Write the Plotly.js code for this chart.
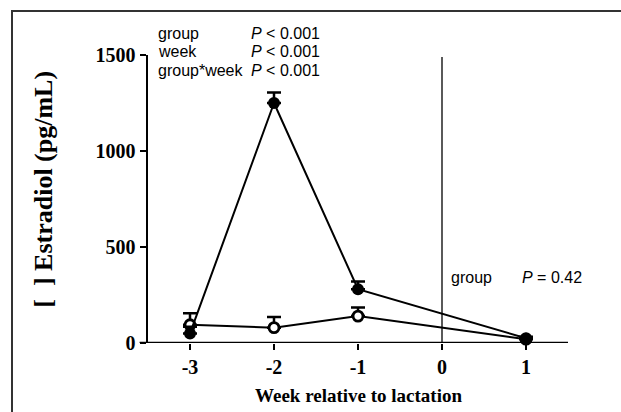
<!DOCTYPE html>
<html>
<head>
<meta charset="utf-8">
<script src="https://cdn.plot.ly/plotly-3.0.1.min.js"></script>
<style>
html,body{margin:0;padding:0;background:#fff;}
#frame{position:absolute;left:11px;top:10px;width:620px;height:410px;border-top:2px solid #333;border-left:2px solid #333;}
#chart{position:absolute;left:0;top:0;width:621px;height:412px;}
</style>
</head>
<body>
<div id="frame"></div>
<div id="chart"></div>
<script>
// Data
const weeks = [-3, -2, -1, 1];
const filledMean = [50, 1250, 280, 25];
const filledErr = [35, 55, 40, 8];
const openMean = [95, 80, 140, 20];
const openErr = [60, 55, 45, 8];
const xTickVals = [-3, -2, -1, 0, 1];
const xTickText = ['-3', '-2', '-1', '0', '1'];
const yTickVals = [0, 500, 1000, 1500];

const serif = 'Liberation Serif, Times New Roman, serif';
const sans = 'Liberation Sans, Arial, sans-serif';

const errStyle = (arr) => ({
  type: 'data', symmetric: false, array: arr, arrayminus: arr.map(() => 0),
  color: '#000', thickness: 2.5, width: 7
});

const traces = [
  {
    x: weeks, y: openMean, mode: 'lines+markers', type: 'scatter',
    line: {color: '#000', width: 2},
    marker: {symbol: 'circle', size: 10, color: '#fff', line: {color: '#000', width: 2.8}},
    error_y: errStyle(openErr), cliponaxis: false, showlegend: false
  },
  {
    x: weeks, y: filledMean, mode: 'lines+markers', type: 'scatter',
    line: {color: '#000', width: 2},
    marker: {symbol: 'circle', size: 12, color: '#000'},
    error_y: errStyle(filledErr), cliponaxis: false, showlegend: false
  }
];

const layout = {
  width: 621, height: 412,
  margin: {l: 148, r: 53, t: 55, b: 69},
  paper_bgcolor: 'rgba(0,0,0,0)', plot_bgcolor: 'rgba(0,0,0,0)',
  xaxis: {
    range: [-3.5, 1.5], showgrid: false, zeroline: false, showline: false,
    tickmode: 'array', tickvals: xTickVals, ticktext: xTickText,
    ticks: 'outside', ticklen: 6, tickwidth: 2.5, tickcolor: '#000',
    tickfont: {family: serif, size: 20, color: '#000', weight: 'bold'}
  },
  yaxis: {
    range: [0, 1500], showgrid: false, zeroline: false, showline: true,
    linecolor: '#000', linewidth: 2.5,
    tickmode: 'array', tickvals: yTickVals,
    ticks: 'outside', ticklen: 6, tickwidth: 2.5, tickcolor: '#000',
    tickfont: {family: serif, size: 20, color: '#000', weight: 'bold'}
  },
  shapes: [
    {type: 'line', xref: 'paper', yref: 'y', x0: -0.02, x1: 1, y0: 0, y1: 0, line: {color: '#000', width: 2.5}},
    {type: 'line', xref: 'x', yref: 'y', x0: 0, x1: 0, y0: 0, y1: 1490, line: {color: '#000', width: 1.3}}
  ],
  annotations: [
    {text: '<b>Week relative to lactation</b>', xref: 'paper', yref: 'paper', x: 0.5, y: -0.184, showarrow: false, xanchor: 'center', yanchor: 'middle', font: {family: serif, size: 19, color: '#000'}},
    {text: '<b>[  ] Estradiol (pg/mL)</b>', xref: 'paper', yref: 'paper', x: -0.248, y: 0.535, textangle: -90, showarrow: false, xanchor: 'center', yanchor: 'middle', font: {family: serif, size: 26, color: '#000'}},
    {text: 'group', xref: 'paper', yref: 'paper', x: 0.019, y: 1.076, showarrow: false, xanchor: 'left', yanchor: 'middle', font: {family: sans, size: 16, color: '#000'}},
    {text: 'week', xref: 'paper', yref: 'paper', x: 0.019, y: 1.012, showarrow: false, xanchor: 'left', yanchor: 'middle', font: {family: sans, size: 16, color: '#000'}},
    {text: 'group*week', xref: 'paper', yref: 'paper', x: 0.019, y: 0.946, showarrow: false, xanchor: 'left', yanchor: 'middle', font: {family: sans, size: 16, color: '#000'}},
    {text: '<i>P</i> < 0.001', xref: 'paper', yref: 'paper', x: 0.241, y: 1.076, showarrow: false, xanchor: 'left', yanchor: 'middle', font: {family: sans, size: 16, color: '#000'}},
    {text: '<i>P</i> < 0.001', xref: 'paper', yref: 'paper', x: 0.241, y: 1.012, showarrow: false, xanchor: 'left', yanchor: 'middle', font: {family: sans, size: 16, color: '#000'}},
    {text: '<i>P</i> < 0.001', xref: 'paper', yref: 'paper', x: 0.241, y: 0.946, showarrow: false, xanchor: 'left', yanchor: 'middle', font: {family: sans, size: 16, color: '#000'}},
    {text: 'group', xref: 'paper', yref: 'paper', x: 0.717, y: 0.229, showarrow: false, xanchor: 'left', yanchor: 'middle', font: {family: sans, size: 16, color: '#000'}},
    {text: '<i>P</i> = 0.42', xref: 'paper', yref: 'paper', x: 0.886, y: 0.229, showarrow: false, xanchor: 'left', yanchor: 'middle', font: {family: sans, size: 16, color: '#000'}}
  ]
};

Plotly.newPlot('chart', traces, layout, {displayModeBar: false, staticPlot: true});
</script>
</body>
</html>
